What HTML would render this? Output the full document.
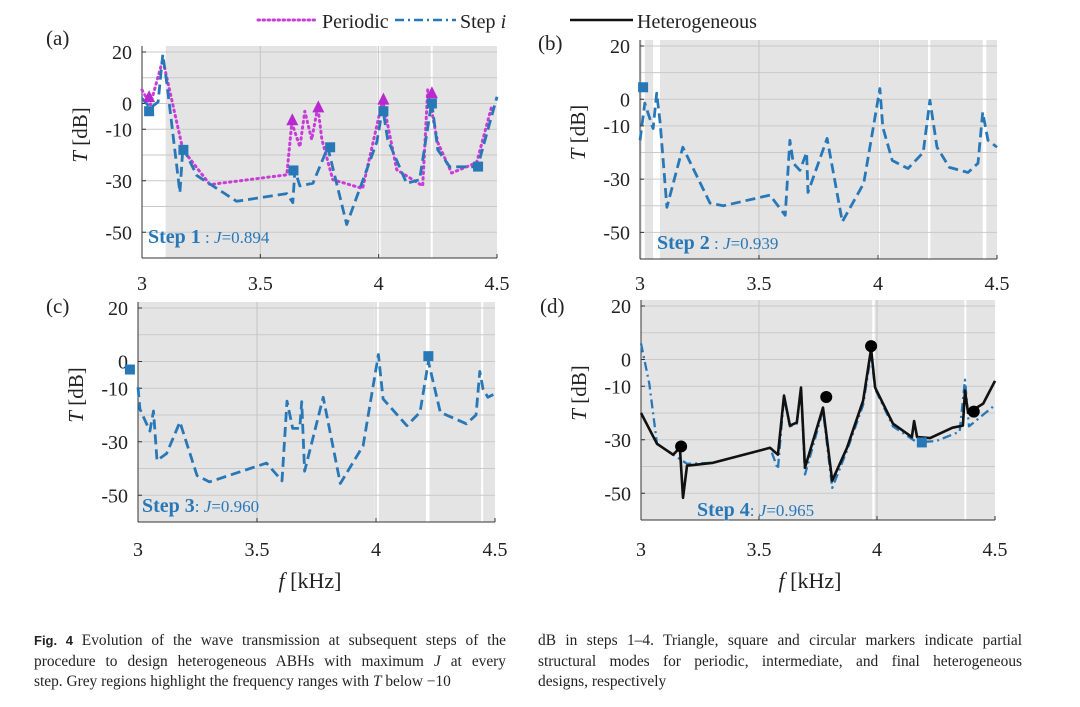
<!DOCTYPE html>
<html><head><meta charset="utf-8">
<style>
body{margin:0;background:#fff;width:1080px;height:707px;overflow:hidden;font-family:"Liberation Serif",serif}
svg{position:absolute;left:0;top:0}
.cap{position:absolute;font-size:15.4px;line-height:20.5px;color:#222;font-family:"Liberation Serif",serif}
.cap div{white-space:nowrap}
.cap .j{text-align:justify;text-align-last:justify}
</style></head><body>
<svg id="chart" width="1080" height="707"></svg>
<div class="cap" style="left:34px;top:631px;width:472px">
<div class="j"><b style="font-family:'Liberation Sans',sans-serif;font-size:13px">Fig. 4</b> Evolution of the wave transmission at subsequent steps of the</div>
<div class="j">procedure to design heterogeneous ABHs with maximum <i>J</i> at every</div>
<div>step. Grey regions highlight the frequency ranges with <i>T</i> below &minus;10</div></div>
<div class="cap" style="left:538px;top:631px;width:484px">
<div class="j">dB in steps 1&ndash;4. Triangle, square and circular markers indicate partial</div>
<div class="j">structural modes for periodic, intermediate, and final heterogeneous</div>
<div>designs, respectively</div></div>
<script>
// ---- data ----
const aStepF=[3,3.035,3.068,3.088,3.105,3.16,3.173,3.232,3.4,3.612,3.637,3.646,3.667,3.722,3.785,3.865,3.992,4.017,4.038,4.118,4.173,4.224,4.25,4.3,4.418,4.5];
const aStepT=[2,-1.7,0.6,19,8,-34.6,-17,-28,-38,-35,-38.5,-26,-32,-31,-17,-47,-15,-1.7,-14,-31,-29.6,0.6,-18,-24.6,-24.6,2.6];
const aPerF=[3,3.035,3.088,3.173,3.287,3.612,3.633,3.667,3.688,3.717,3.743,3.76,3.806,3.932,4.017,4.076,4.186,4.207,4.249,4.308,4.414,4.477];
const aPerT=[5.3,-0.5,17,-18,-31.5,-27.7,-7.5,-16.8,-3,-14,-1.3,-14,-29.6,-33,1.4,-25.7,-32,5.3,-15,-27,-23,-1.3];
const aTriF=[3.03,3.635,3.745,4.02,4.225];
const aTriT=[2.5,-6.5,-1.5,1.5,4];
const aSqF=[3.03,3.175,3.64,3.795,4.02,4.225,4.42];
const aSqT=[-3,-18,-26,-17,-3,0,-24.5];
const bF=[3,3.02,3.055,3.07,3.085,3.113,3.18,3.294,3.35,3.546,3.61,3.63,3.644,3.672,3.7,3.706,3.786,3.85,3.94,4.008,4.02,4.06,4.126,4.19,4.218,4.248,4.3,4.378,4.42,4.44,4.462,4.5];
const bT=[-15.4,-1.5,-11,2.3,-9,-40.6,-18,-39,-40,-36,-43.6,-15.4,-24,-26.7,-20,-35,-14.7,-46,-31.6,4,-10.5,-23,-26,-20,-0.4,-18,-25.6,-27.5,-24,-4.9,-15.4,-18];
const bSqF=[3.013];const bSqT=[4.5];
const cF=[3,3.008,3.05,3.065,3.08,3.12,3.176,3.248,3.3,3.54,3.605,3.626,3.65,3.68,3.688,3.7,3.778,3.85,3.946,4.01,4.03,4.13,4.185,4.22,4.27,4.38,4.42,4.436,4.45,4.47,4.5];
const cT=[-9.6,-17.8,-26,-18.5,-37,-34.4,-22.6,-42.6,-45,-38,-44.6,-14.8,-25,-25,-15,-41,-13.4,-45.6,-31.5,2.6,-14,-24,-19,0,-19,-23.3,-20,-3.7,-10.4,-13.4,-12];
const cSqF=[2.966,4.22];const cSqT=[-3,2];
const dHetF=[3,3.068,3.136,3.165,3.178,3.195,3.305,3.547,3.58,3.606,3.631,3.66,3.678,3.695,3.771,3.81,3.873,3.941,3.975,3.992,4.068,4.148,4.157,4.17,4.225,4.32,4.364,4.373,4.386,4.45,4.5];
const dHetT=[-20,-31.5,-35.6,-33,-51.7,-39.7,-38.6,-33,-35.6,-13.5,-24.7,-23.6,-10.5,-40.4,-18,-45.3,-33,-15.4,4,-10.5,-24,-29,-23,-29,-29.4,-25.5,-24.7,-11.6,-20,-16.5,-8];
const dStepF=[3,3.035,3.068,3.136,3.178,3.195,3.305,3.547,3.58,3.606,3.631,3.66,3.678,3.695,3.771,3.81,3.873,3.941,3.975,3.992,4.068,4.17,4.25,4.35,4.373,4.39,4.5];
const dStepT=[6,-9,-31.5,-35.6,-38,-39,-38.6,-33,-41,-14,-25,-24,-11,-43,-19,-48,-34,-17,2,-11,-25,-31,-30.5,-27,-7.6,-25,-17];
const dCirF=[3.17,3.785,3.975,4.41];const dCirT=[-32.5,-14,5,-19.5];
const dSqF=[4.19];const dSqT=[-31];
const yTicks=[20,0,-10,-30,-50];
const xTicks=[3,3.5,4,4.5];
const xTickLabels=["3","3.5","4","4.5"];

const BLUE="#2878b8",MAG="#c83cd8";
const NS="http://www.w3.org/2000/svg";
const svg=document.getElementById('chart');
function el(tag,attrs,parent){const e=document.createElementNS(NS,tag);for(const k in attrs)e.setAttribute(k,attrs[k]);(parent||svg).appendChild(e);return e;}

const panels=[
 {id:'a',x0:142,x1:497,yT:52,yB:258,lab:'(a)',lx:46,ly:45,white:[[3,3.1],[3.995,4.008],[4.22,4.228]],step:'Step 1',j:' : J=0.894',sx:148,sy:243,xl:290,yl:103},
 {id:'b',x0:640,x1:997,yT:46,yB:259,lab:'(b)',lx:538,ly:50,white:[[3.008,3.02],[3.055,3.084],[3.996,4.008],[4.21,4.22],[4.44,4.455]],step:'Step 2',j:' : J=0.939',sx:657,sy:249,xl:290,yl:99},
 {id:'c',x0:138,x1:495,yT:308,yB:522,lab:'(c)',lx:46,ly:313,white:[[3.995,4.012],[4.21,4.225],[4.442,4.45]],step:'Step 3',j:': J=0.960',sx:142,sy:512,xl:556,yl:362},
 {id:'d',x0:641,x1:995,yT:306,yB:520,lab:'(d)',lx:540,ly:313,white:[[3.98,3.99],[4.37,4.378]],step:'Step 4',j:': J=0.965',sx:697,sy:516,xl:556,yl:359}
];
function mk(p){
 p.X=f=>p.x0+(f-3)/1.5*(p.x1-p.x0);
 p.Y=t=>p.yT+(20-t)/80*(p.yB-p.yT);
}
panels.forEach(p=>{
 mk(p);
 const g=el('g',{});
 
 
 el('rect',{x:p.x0,y:p.yT-6,width:p.x1-p.x0,height:p.yB-p.yT+6,fill:'#e4e4e4'},g);
 p.white.forEach(w=>{el('rect',{x:p.X(w[0]),y:p.yT-6,width:Math.max(2,p.X(w[1])-p.X(w[0])),height:p.yB-p.yT+6,fill:'#fff'},g);});
 for(let t=20;t>=-50;t-=10){el('line',{x1:p.x0,x2:p.x1,y1:p.Y(t),y2:p.Y(t),stroke:'#c9c9c9','stroke-width':1},g);}
 [3.5,4].forEach(f=>el('line',{x1:p.X(f),x2:p.X(f),y1:p.yT-6,y2:p.yB,stroke:'#c4c4c4','stroke-width':1},g));
 el('line',{x1:p.x0,x2:p.x0,y1:p.yT-6,y2:p.yB,stroke:'#333','stroke-width':1},g);
 el('line',{x1:p.x0,x2:p.x1,y1:p.yB,y2:p.yB,stroke:'#333','stroke-width':1},g);
 yTicks.forEach(t=>{
  el('line',{x1:p.x0,x2:p.x0+4,y1:p.Y(t),y2:p.Y(t),stroke:'#333'},g);
  const tx=el('text',{x:p.x0-10,y:p.Y(t)+7,'text-anchor':'end','font-size':20,fill:'#222'},g);
  tx.textContent=String(t);
  
  
 });
 xTicks.forEach((f,i)=>{
  el('line',{x1:p.X(f),x2:p.X(f),y1:p.yB,y2:p.yB-4,stroke:'#333'},g);
  const tx=el('text',{x:p.X(f),y:p.xl,'text-anchor':'middle','font-size':20,fill:'#222'},g);
  tx.textContent=xTickLabels[i];
  
  
 });
 const yt=el('text',{transform:`translate(${p.x0-55},${(p.yT+p.yB)/2-20}) rotate(-90)`,'text-anchor':'middle','font-size':21,fill:'#222'},g);
 yt.innerHTML='<tspan font-style="italic">T</tspan> [dB]';
 
 
 const lb=el('text',{x:p.lx,y:p.ly,'font-size':21,fill:'#222'},g);
 lb.textContent=p.lab;
 
 
 const st=el('text',{x:p.sx,y:p.sy,'font-size':20,fill:BLUE},g);
 st.innerHTML='<tspan font-weight="bold">'+p.step+'</tspan><tspan font-size="17">'+p.j.replace('J','<tspan font-style="italic">J</tspan>')+'</tspan>';
 
 
});
function line(p,F,T,attrs,name){
 const d=F.map((f,i)=>(i?'L':'M')+p.X(f).toFixed(1)+','+p.Y(T[i]).toFixed(1)).join('');
 const e=el('path',Object.assign({d:d,fill:'none','stroke-linejoin':'round'},attrs));
 
 
}
function squares(p,F,T,name){F.forEach((f,i)=>{const r=el('rect',{x:p.X(f)-5,y:p.Y(T[i])-5,width:10,height:10,fill:BLUE});});}
const [A,B,C,D]=panels;
line(A,aPerF,aPerT,{stroke:MAG,'stroke-width':3,'stroke-dasharray':'1.5 4','stroke-linecap':'round'},'periodic-line-a');
line(A,aStepF,aStepT,{stroke:BLUE,'stroke-width':2.8,'stroke-dasharray':'10 5'},'step-line-a');
aTriF.forEach((f,i)=>{const x=A.X(f),y=A.Y(aTriT[i]);const t=el('polygon',{points:`${x-6},${y+5} ${x+6},${y+5} ${x},${y-7}`,fill:'#b82ad0'});});
squares(A,aSqF,aSqT,'step-square-marker');
line(B,bF,bT,{stroke:BLUE,'stroke-width':2.8,'stroke-dasharray':'10 5'},'step-line-b');
squares(B,bSqF,bSqT,'step-square-marker');
line(C,cF,cT,{stroke:BLUE,'stroke-width':2.8,'stroke-dasharray':'10 5'},'step-line-c');
squares(C,cSqF,cSqT,'step-square-marker');
line(D,dStepF,dStepT,{stroke:BLUE,'stroke-width':2.3,'stroke-dasharray':'9 4 2 4'},'step-line-d');
line(D,dHetF,dHetT,{stroke:'#111','stroke-width':2.6},'heterogeneous-line-d');
squares(D,dSqF,dSqT,'step-square-marker');
dCirF.forEach((f,i)=>{const c=el('circle',{cx:D.X(f),cy:D.Y(dCirT[i]),r:6,fill:'#000'});});
// x titles
[[310,588],[810,588]].forEach(a=>{const t=el('text',{x:a[0],y:a[1],'text-anchor':'middle','font-size':22,fill:'#222'});t.innerHTML='<tspan font-style="italic">f</tspan> [kHz]';});
// legend
const lg=el('g',{});


el('line',{x1:258,x2:318,y1:20,y2:20,stroke:MAG,'stroke-width':3,'stroke-dasharray':'1.5 3.5','stroke-linecap':'round'},lg);
el('text',{x:322,y:28,'font-size':20,fill:'#222'},lg).textContent='Periodic';
el('line',{x1:395,x2:456,y1:20,y2:20,stroke:BLUE,'stroke-width':2.6,'stroke-dasharray':'9 4 2 4'},lg);
el('text',{x:460,y:28,'font-size':20,fill:'#222'},lg).innerHTML='Step <tspan font-style="italic">i</tspan>';
el('line',{x1:570,x2:633,y1:20,y2:20,stroke:'#111','stroke-width':2.6},lg);
el('text',{x:637,y:28,'font-size':20,fill:'#222'},lg).textContent='Heterogeneous';
</script>
</body></html>
